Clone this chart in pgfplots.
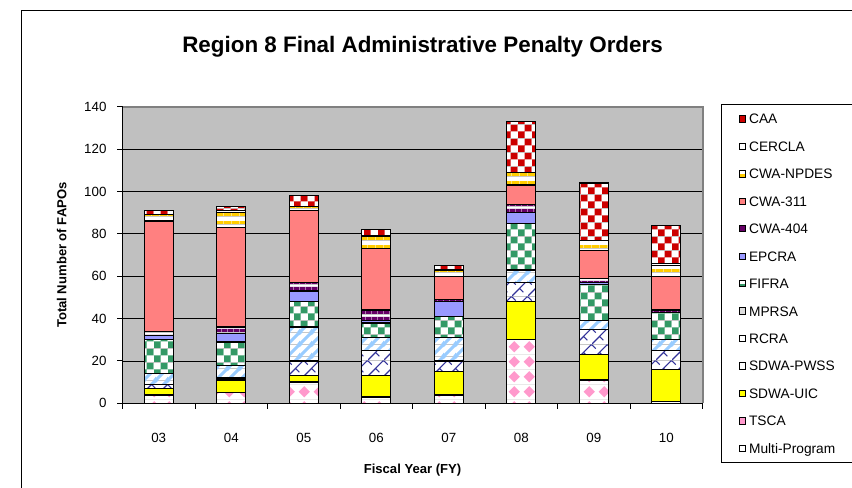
\documentclass[border=0pt]{standalone}
\usepackage{fontspec}
\setmainfont{Liberation Sans}
\usepackage{pgfplots}
\usepackage{pgfplotstable}
\pgfplotsset{compat=1.18}
\usetikzlibrary{patterns}

\definecolor{caared}{HTML}{CC0000}
\definecolor{npdesgold}{HTML}{FFCC00}
\definecolor{salmon311}{HTML}{FF8080}
\definecolor{purple404}{HTML}{660066}
\definecolor{lavender}{HTML}{9999FF}
\definecolor{fifragreen}{HTML}{339966}
\definecolor{rcrablue}{HTML}{99CCFF}
\definecolor{pwssblue}{HTML}{333399}
\definecolor{uicyellow}{HTML}{FFFF00}
\definecolor{tscapink}{HTML}{FF99CC}
\definecolor{plotgray}{HTML}{C0C0C0}
\definecolor{bordergray}{HTML}{808080}
\definecolor{mprsagray}{HTML}{DDDDDD}

% checkerboards with white ground
\newcommand\checkpat[2]{%
\pgfdeclarepatterninherentlycolored{#1}{\pgfpointorigin}{\pgfqpoint{10.5pt}{10.5pt}}{\pgfqpoint{10.5pt}{10.5pt}}{%
  \pgfsetfillcolor{white}\pgfpathrectangle{\pgfpointorigin}{\pgfqpoint{10.5pt}{10.5pt}}\pgfusepath{fill}%
  \pgfsetfillcolor{#2}%
  \pgfpathrectangle{\pgfpointorigin}{\pgfqpoint{5.25pt}{5.25pt}}%
  \pgfpathrectangle{\pgfqpoint{5.25pt}{5.25pt}}{\pgfqpoint{5.25pt}{5.25pt}}\pgfusepath{fill}}}
\checkpat{caachk}{caared}
\checkpat{fifrachk}{fifragreen}

% horizontal bands
\newcommand\bandpat[4]{%
\pgfdeclarepatterninherentlycolored{#1}{\pgfpointorigin}{\pgfqpoint{#3}{#3}}{\pgfqpoint{#3}{#3}}{%
  \pgfsetfillcolor{white}\pgfpathrectangle{\pgfpointorigin}{\pgfqpoint{#3}{#3}}\pgfusepath{fill}%
  \pgfsetfillcolor{#2}\pgfpathrectangle{\pgfpointorigin}{\pgfqpoint{#3}{#4}}\pgfusepath{fill}}}
\bandpat{npdesband}{npdesgold}{6pt}{2.5pt}
\bandpat{band404}{purple404}{4.5pt}{2.7pt}

% wide upward diagonal
\pgfdeclarepatterninherentlycolored{rcradiag}{\pgfpointorigin}{\pgfqpoint{9pt}{9pt}}{\pgfqpoint{9pt}{9pt}}{%
  \pgfsetfillcolor{white}\pgfpathrectangle{\pgfpointorigin}{\pgfqpoint{9pt}{9pt}}\pgfusepath{fill}%
  \pgfsetstrokecolor{rcrablue}\pgfsetlinewidth{2.4pt}%
  \pgfpathmoveto{\pgfqpoint{-1pt}{-1pt}}\pgfpathlineto{\pgfqpoint{10pt}{10pt}}%
  \pgfpathmoveto{\pgfqpoint{-4.5pt}{4.5pt}}\pgfpathlineto{\pgfqpoint{4.5pt}{13.5pt}}%
  \pgfpathmoveto{\pgfqpoint{4.5pt}{-4.5pt}}\pgfpathlineto{\pgfqpoint{13.5pt}{4.5pt}}%
  \pgfusepath{stroke}}

% diagonal lattice (solid rising lines, dashed falling lines)
\pgfdeclarepatterninherentlycolored{pwsslat}{\pgfpointorigin}{\pgfqpoint{12pt}{12pt}}{\pgfqpoint{12pt}{12pt}}{%
  \pgfsetfillcolor{white}\pgfpathrectangle{\pgfpointorigin}{\pgfqpoint{12pt}{12pt}}\pgfusepath{fill}%
  \pgfsetstrokecolor{pwssblue}\pgfsetlinewidth{0.9pt}%
  \pgfpathmoveto{\pgfqpoint{-1pt}{-1pt}}\pgfpathlineto{\pgfqpoint{13pt}{13pt}}%
  \pgfpathmoveto{\pgfqpoint{0pt}{12pt}}\pgfpathlineto{\pgfqpoint{3pt}{9pt}}%
  \pgfpathmoveto{\pgfqpoint{6pt}{6pt}}\pgfpathlineto{\pgfqpoint{9pt}{3pt}}%
  \pgfusepath{stroke}}

% pink diamonds
\pgfdeclarepatterninherentlycolored{tscadia}{\pgfpointorigin}{\pgfqpoint{11pt}{11pt}}{\pgfqpoint{11pt}{11pt}}{%
  \pgfsetfillcolor{white}\pgfpathrectangle{\pgfpointorigin}{\pgfqpoint{11pt}{11pt}}\pgfusepath{fill}%
  \pgfsetfillcolor{tscapink}%
  \pgfpathmoveto{\pgfqpoint{5.5pt}{1.2pt}}\pgfpathlineto{\pgfqpoint{9.8pt}{5.5pt}}%
  \pgfpathlineto{\pgfqpoint{5.5pt}{9.8pt}}\pgfpathlineto{\pgfqpoint{1.2pt}{5.5pt}}\pgfpathclose
  \pgfusepath{fill}}

\pgfplotstableread{
X MP TSCA UIC PWSS RCRA MPRSA FIFRA EPCRA C404 C311 NPDES CERCLA CAA
0 0 4  3  2  5  0 16 2 2 52 3 0 2
1 0 5  6  1  6  0 11 4 3 47 7 1 2
2 0 10 3  7  16 0 12 5 4 34 2 0 5
3 0 3  10 12 6  0 7  1 5 29 6 0 3
4 0 4  11 5  11 0 10 7 1 11 3 0 2
5 0 30 18 9  6  0 22 5 4 9  6 0 24
6 0 11 12 12 4  0 17 1 2 13 5 0 27
7 1 0  15 9  5  0 13 0 1 16 5 1 18
}\fapo

% legend swatch: upper colour, lower colour (plain pgf, so the bar pattern is not inherited)
\newcommand\swatch[2]{%
  \pgfsetfillcolor{#2}\pgfpathrectangle{\pgfqpoint{0pt}{-2.4pt}}{\pgfqpoint{4.8pt}{2.4pt}}\pgfusepath{fill}%
  \pgfsetfillcolor{#1}\pgfpathrectangle{\pgfqpoint{0pt}{0pt}}{\pgfqpoint{4.8pt}{2.4pt}}\pgfusepath{fill}%
  \pgfsetstrokecolor{black}\pgfsetlinewidth{0.6pt}%
  \pgfpathrectangle{\pgfqpoint{0pt}{-2.4pt}}{\pgfqpoint{4.8pt}{4.8pt}}\pgfusepath{stroke}}

\pgfplotsset{seg/.style={draw=black, line width=1pt}}

\begin{document}
\begin{tikzpicture}
\useasboundingbox (0,0) rectangle (639pt,-365.25pt);
\draw[black, line width=0.9pt] (16.3pt,-8pt) rectangle (660pt,-380pt);
\node[anchor=base, font=\bfseries\fontsize{16.8}{20}\selectfont] at (316.9pt,-39.5pt)
  {Region 8 Final Administrative Penalty Orders};
\begin{axis}[
  at={(91.875pt,-302.5pt)}, anchor=south west,
  scale only axis, width=435pt, height=222.45pt,
  ybar stacked, bar width=0.4,
  xmin=-0.5, xmax=7.5, ymin=0, ymax=140,
  xtick={0,...,7},
  xticklabels={03,04,05,06,07,08,09,10},
  minor xtick={-0.5,0.5,...,7.5},
  ytick={0,20,...,140},
  tick align=outside, tick pos=left,
  major tick length=4pt, minor tick length=4pt,
  every major x tick/.append style={draw=none},
  every minor x tick/.append style={black, line width=0.75pt},
  every major y tick/.append style={black, line width=0.75pt},
  axis x line*=bottom, axis y line*=left,
  axis line style={-, black, line width=0.75pt},
  axis background/.style={fill=plotgray},
  ymajorgrids, grid style={black, line width=0.6pt},
  clip=false,
  /pgf/number format/assume math mode=true,
  tick label style={font=\fontsize{10}{12}\selectfont},
  yticklabel style={xshift=-4.5pt},
  xticklabel style={yshift=-15pt},
  label style={font=\bfseries\fontsize{9.8}{12}\selectfont},
  xlabel={Fiscal Year (FY)},
  ylabel={Total Number of FAPOs},
  xlabel style={at={(axis description cs:0.5,-0.224)}, anchor=center},
  ylabel style={at={(axis description cs:-0.105,0.5)}, anchor=center},
  reverse legend, legend cell align=left,
  legend style={at={(1.0314,1.0091)}, anchor=north west, draw=black,
    line width=0.75pt, fill=white, inner xsep=13pt, inner ysep=7pt,
    row sep=13.2pt, column sep=2.5pt,
    font=\fontsize{10.3}{12}\selectfont,
    nodes={inner sep=0pt, text height=7.4pt, text depth=0pt}},
]
\addplot[seg, fill=white, legend image code/.code={\swatch{white}{white}}]
  table[x=X,y=MP]{\fapo};
\addlegendentry{Multi-Program}
\addplot[seg, pattern=tscadia, legend image code/.code={\swatch{tscapink}{tscapink}}]
  table[x=X,y=TSCA]{\fapo};
\addlegendentry{TSCA}
\addplot[seg, fill=uicyellow, legend image code/.code={\swatch{uicyellow}{uicyellow}}]
  table[x=X,y=UIC]{\fapo};
\addlegendentry{SDWA-UIC}
\addplot[seg, pattern=pwsslat, legend image code/.code={\swatch{white}{white}}]
  table[x=X,y=PWSS]{\fapo};
\addlegendentry{SDWA-PWSS}
\addplot[seg, pattern=rcradiag, legend image code/.code={\swatch{white}{white}}]
  table[x=X,y=RCRA]{\fapo};
\addlegendentry{RCRA}
\addplot[seg, fill=white, legend image code/.code={\swatch{mprsagray}{mprsagray}}]
  table[x=X,y=MPRSA]{\fapo};
\addlegendentry{MPRSA}
\addplot[seg, pattern=fifrachk, legend image code/.code={\swatch{white}{fifragreen}}]
  table[x=X,y=FIFRA]{\fapo};
\addlegendentry{FIFRA}
\addplot[seg, fill=lavender, legend image code/.code={\swatch{lavender}{lavender}}]
  table[x=X,y=EPCRA]{\fapo};
\addlegendentry{EPCRA}
\addplot[seg, pattern=band404, legend image code/.code={\swatch{purple404}{purple404}}]
  table[x=X,y=C404]{\fapo};
\addlegendentry{CWA-404}
\addplot[seg, fill=salmon311, legend image code/.code={\swatch{salmon311}{salmon311}}]
  table[x=X,y=C311]{\fapo};
\addlegendentry{CWA-311}
\addplot[seg, pattern=npdesband, legend image code/.code={\swatch{white}{npdesgold}}]
  table[x=X,y=NPDES]{\fapo};
\addlegendentry{CWA-NPDES}
\addplot[seg, fill=white, legend image code/.code={\swatch{white}{white}}]
  table[x=X,y=CERCLA]{\fapo};
\addlegendentry{CERCLA}
\addplot[seg, pattern=caachk, legend image code/.code={\swatch{caared}{caared}}]
  table[x=X,y=CAA]{\fapo};
\addlegendentry{CAA}
\draw[bordergray, line width=1.5pt] (rel axis cs:0,1) -- (rel axis cs:1,1) -- (rel axis cs:1,0);
\end{axis}
\end{tikzpicture}
\end{document}
